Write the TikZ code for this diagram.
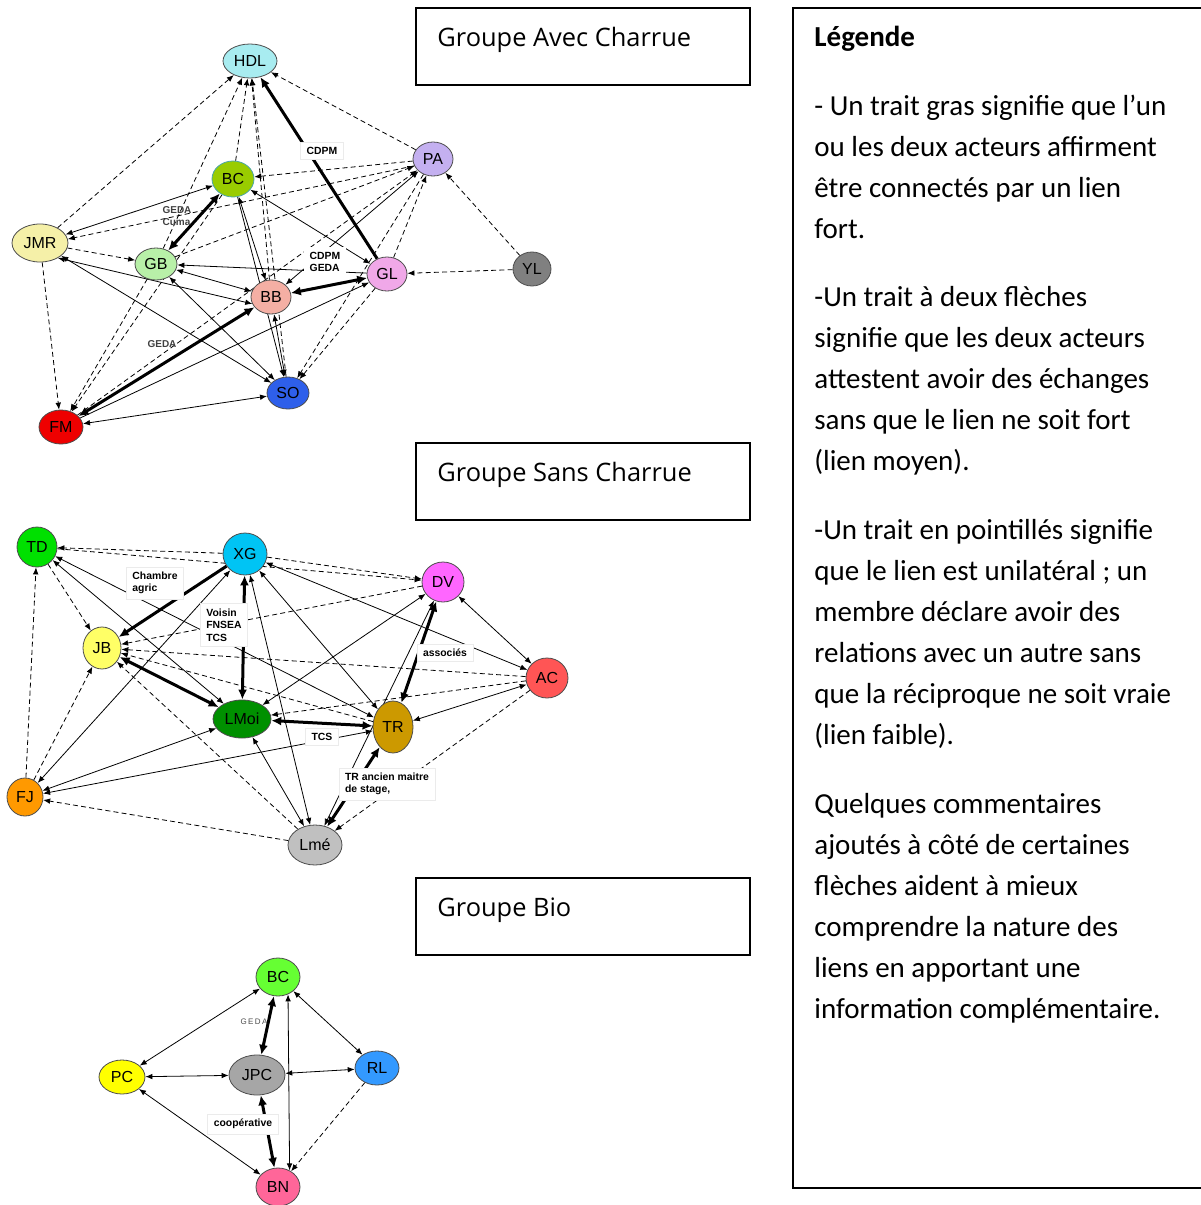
\documentclass[tikz,border=0pt]{standalone}
\usepackage{fontspec}
\setmainfont{Carlito}
\newfontfamily\nodefont{Liberation Sans}
\newfontfamily\titlefont{Open Sans}
\usetikzlibrary{arrows.meta,shapes.geometric,backgrounds}

% couleurs des acteurs
\definecolor{chdl}{HTML}{A8ECF0}
\definecolor{cbca}{HTML}{99CC00}
\definecolor{cpa}{HTML}{C4B0F0}
\definecolor{cjmr}{HTML}{F5F0A8}
\definecolor{cgb}{HTML}{B8F0A8}
\definecolor{cgl}{HTML}{F0A8E8}
\definecolor{cyl}{HTML}{808080}
\definecolor{cbb}{HTML}{F4AFA4}
\definecolor{cso}{HTML}{2E5FEA}
\definecolor{cfm}{HTML}{EE0000}
\definecolor{ctd}{HTML}{00E000}
\definecolor{cxg}{HTML}{00C4F4}
\definecolor{cdv}{HTML}{FF66FF}
\definecolor{cjb}{HTML}{FFFF66}
\definecolor{cac}{HTML}{FF5555}
\definecolor{clmoi}{HTML}{009000}
\definecolor{ctr}{HTML}{CC9900}
\definecolor{cfj}{HTML}{FF9900}
\definecolor{clme}{HTML}{C0C0C0}
\definecolor{cbcb}{HTML}{66FF33}
\definecolor{cpc}{HTML}{FFFF00}
\definecolor{cjpc}{HTML}{A6A6A6}
\definecolor{crl}{HTML}{3399FF}
\definecolor{cbn}{HTML}{FF6699}

\tikzset{
  actor/.style={ellipse,draw=black!70,line width=0.4pt,inner sep=0pt,font=\nodefont\fontsize{8}{9}\selectfont},
  weak/.style={line width=0.4pt,dash pattern=on 2.5pt off 1.6pt,-{Latex[length=3.5pt,width=2.8pt]}},
  medium/.style={line width=0.4pt,{Latex[length=3.5pt,width=2.8pt]}-{Latex[length=3.5pt,width=2.8pt]}},
  oneway/.style={line width=0.4pt,-{Latex[length=3.5pt,width=2.8pt]}},
  strong/.style={line width=1.5pt,-{Latex[length=5pt,width=4.5pt]}},
  strongboth/.style={line width=1.5pt,{Latex[length=5pt,width=4.5pt]}-{Latex[length=5pt,width=4.5pt]}},
  tag/.style={fill=white,draw=black!8,inner xsep=3pt,inner ysep=2.5pt,align=left,font=\nodefont\bfseries\fontsize{5.2}{6.2}\selectfont},
  plaintag/.style={inner sep=0pt,align=left,text=black!75,font=\nodefont\bfseries\fontsize{5}{6}\selectfont},
  titlebox/.style={draw,line width=0.75pt},
  grouptitle/.style={anchor=base west,inner sep=0pt,font=\titlefont\fontsize{12.7}{14}\selectfont},
  para/.style={anchor=north west,inner sep=0pt,align=left,font=\fontsize{14.5}{20.5}\selectfont}
}

\begin{document}
\begin{tikzpicture}[x=0.5pt,y=-0.5pt]
\useasboundingbox (0,0) rectangle (1200,1205);

% titres des groupes
\draw[titlebox] (416,8) rectangle (750,85);
\node[grouptitle] (t1) at (437,46) {Groupe Avec Charrue};
\draw[titlebox] (416,443) rectangle (750,520);
\node[grouptitle] (t2) at (437,481) {Groupe Sans Charrue};
\draw[titlebox] (416,878) rectangle (750,955);
\node[grouptitle] (t3) at (437,916) {Groupe Bio};

% legende
\draw[line width=0.75pt] (793,8) rectangle (1215,1188);
\node[anchor=base west,inner sep=0pt,font=\bfseries\fontsize{14.5}{20.5}\selectfont] (leg) at (814,46) {Légende};
\node[para] (p1) at (814,95) {- Un trait gras signifie que l’un\\ou les deux acteurs affirment\\être connectés par un lien\\fort.};
\node[para] (p2) at (814,286) {-Un trait à deux flèches\\signifie que les deux acteurs\\attestent avoir des échanges\\sans que le lien ne soit fort\\(lien moyen).};
\node[para] (p3) at (814,519) {-Un trait en pointillés signifie\\que le lien est unilatéral ; un\\membre déclare avoir des\\relations avec un autre sans\\que la réciproque ne soit vraie\\(lien faible).};
\node[para] (p4) at (814,793) {Quelques commentaires\\ajoutés à côté de certaines\\flèches aident à mieux\\comprendre la nature des\\liens en apportant une\\information complémentaire.};

% groupe avec charrue
\node[actor,fill=chdl,minimum width=27pt,minimum height=17pt] (hdl) at (250,61) {HDL};
\node[actor,fill=cbca,draw=teal!70,minimum width=21pt,minimum height=18pt] (bca) at (233,179) {BC};
\node[actor,fill=cpa,minimum width=20pt,minimum height=17pt] (pa) at (433,159) {PA};
\node[actor,fill=cjmr,minimum width=28pt,minimum height=19pt] (jmr) at (40,243) {JMR};
\node[actor,fill=cgb,minimum width=21pt,minimum height=16pt] (gb) at (156,264) {GB};
\node[actor,fill=cgl,minimum width=20pt,minimum height=17pt] (gl) at (387,274) {GL};
\node[actor,fill=cyl,minimum width=19pt,minimum height=17pt] (yl) at (532,269) {YL};
\node[actor,fill=cbb,minimum width=20pt,minimum height=17pt] (bb) at (271,297) {BB};
\node[actor,fill=cso,minimum width=21pt,minimum height=16pt] (so) at (288,393) {SO};
\node[actor,fill=cfm,minimum width=22pt,minimum height=17pt] (fm) at (61,427) {FM};

\begin{scope}[on background layer]
\draw[weak] (jmr) -- (hdl);
\draw[weak] (gb) -- (hdl);
\draw[weak] (bca) -- (hdl);
\draw[weak] (bb) -- (hdl);
\draw[weak] (so) -- (hdl);
\draw[weak] (pa) -- (hdl);
\draw[strong] (gl) -- (hdl);
\draw[weak] (pa) -- (bca);
\draw[weak] (pa.200) -- (jmr.8);
\draw[weak] (gb) -- (pa);
\draw[weak] (gl) -- (pa);
\draw[weak] (fm) -- (pa);
\draw[weak] (yl) -- (pa);
\draw[weak] (yl) -- (gl);
\draw[medium] (bb) -- (pa);
\draw[medium] (bca) -- (gl);
\draw[strongboth] (bca) -- (gb);
\draw[medium] (jmr) -- (bca);
\draw[weak] (jmr) -- (gb);
\draw[oneway] (gl) -- (gb);
\draw[medium] (gb) -- (bb);
\draw[medium] (jmr.-40) -- (bb.200);
\draw[medium] (jmr) -- (so);
\draw[medium] (gb) -- (so);
\draw[medium] (bca) -- (bb);
\draw[oneway] (bca) -- (so);
\draw[strongboth] (bb) -- (gl);
\draw[medium] (bb) -- (so);
\draw[strongboth] (fm) -- (bb);
\draw[oneway] (fm) -- (gl);
\draw[medium] (fm) -- (so);
\draw[weak] (jmr) -- (fm);
\draw[weak] (gb) -- (fm);
\draw[weak] (bca) -- (fm);
\draw[weak] (gl) -- (so);
\draw[weak] (pa) -- (so);
\end{scope}

\node[tag] (l1) at (322,151) {CDPM};
\node[tag,draw=none] (l2) at (325,262) {CDPM\\GEDA};
\node[plaintag] (l3) at (177,216) {GEDA\\Cuma};
\node[plaintag] (l4) at (162,344) {GEDA};

% groupe sans charrue
\node[actor,fill=ctd,minimum width=20pt,minimum height=20pt] (td) at (37,547) {TD};
\node[actor,fill=cxg,minimum width=22pt,minimum height=21pt] (xg) at (245,554) {XG};
\node[actor,fill=cdv,minimum width=21pt,minimum height=20pt] (dv) at (443,582) {DV};
\node[actor,fill=cjb,minimum width=19pt,minimum height=21pt] (jb) at (102,648) {JB};
\node[actor,fill=cac,minimum width=21pt,minimum height=20pt] (ac) at (547,678) {AC};
\node[actor,fill=clmoi,minimum width=29pt,minimum height=19pt] (lmoi) at (242,719) {LMoi};
\node[actor,fill=ctr,minimum width=20pt,minimum height=26pt] (tr) at (393,727) {TR};
\node[actor,fill=cfj,minimum width=18pt,minimum height=19pt] (fj) at (25,797) {FJ};
\node[actor,fill=clme,minimum width=27pt,minimum height=20pt] (lme) at (315,845) {Lmé};

\begin{scope}[on background layer]
\draw[weak] (xg) -- (td);
\draw[weak] (xg) -- (dv);
\draw[weak] (td) -- (dv);
\draw[strong] (xg) -- (jb);
\draw[medium] (td) -- (lmoi);
\draw[medium] (td) -- (tr);
\draw[weak] (td) -- (jb);
\draw[weak] (fj) -- (td);
\draw[strongboth] (xg) -- (lmoi);
\draw[medium] (xg) -- (fj);
\draw[strongboth] (jb) -- (lmoi);
\draw[weak] (dv) -- (jb);
\draw[weak] (ac) -- (jb);
\draw[weak] (tr) -- (jb);
\draw[medium] (xg) -- (ac);
\draw[medium] (xg) -- (tr);
\draw[medium] (xg) -- (lme);
\draw[medium] (dv) -- (lmoi);
\draw[strongboth] (dv) -- (tr);
\draw[medium] (dv) -- (ac);
\draw[medium] (dv) -- (lme);
\draw[weak] (ac) -- (lmoi);
\draw[medium] (ac) -- (tr);
\draw[weak] (ac) -- (lme);
\draw[strongboth] (lmoi) -- (tr);
\draw[medium] (lmoi) -- (fj);
\draw[medium] (fj) -- (tr);
\draw[medium] (lmoi) -- (lme);
\draw[strongboth] (tr) -- (lme);
\draw[weak] (lme) -- (fj);
\draw[weak] (lme) -- (jb);
\draw[weak] (fj) -- (jb);
\end{scope}

\node[tag] (l5) at (155,583) {Chambre\\agric};
\node[tag] (l6) at (224,625) {Voisin\\FNSEA\\TCS};
\node[tag] (l7) at (445,653) {associés};
\node[tag] (l8) at (322,737) {TCS};
\node[tag] (l9) at (387,784) {TR ancien maitre\\de stage,};

% groupe bio
\node[actor,fill=cbcb,minimum width=22pt,minimum height=19pt] (bcb) at (278,977) {BC};
\node[actor,fill=cpc,minimum width=23pt,minimum height=17pt] (pc) at (122,1077) {PC};
\node[actor,fill=cjpc,minimum width=28pt,minimum height=20pt] (jpc) at (257,1075) {JPC};
\node[actor,fill=crl,minimum width=22pt,minimum height=17pt] (rl) at (377,1068) {RL};
\node[actor,fill=cbn,minimum width=22pt,minimum height=19pt] (bn) at (278,1187) {BN};

\begin{scope}[on background layer]
\draw[medium] (bcb) -- (pc);
\draw[strongboth] (bcb) -- (jpc);
\draw[medium] (bcb) -- (rl);
\draw[medium] (bcb.-60) -- (bn.55);
\draw[medium] (pc) -- (jpc);
\draw[medium] (jpc) -- (rl);
\draw[medium] (pc) -- (bn);
\draw[strongboth] (jpc) -- (bn);
\draw[weak] (rl) -- (bn);
\end{scope}

\node[plaintag,font=\nodefont\fontsize{4}{5}\selectfont,text=black!70] (l10) at (254,1022) {G\,E\,D\,A};
\node[tag] (l11) at (243,1124) {coopérative};
\end{tikzpicture}
\end{document}
